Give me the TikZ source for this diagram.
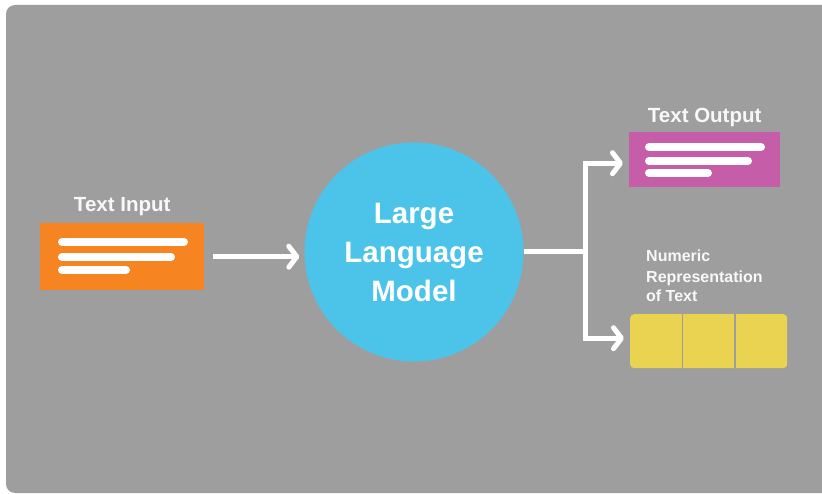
\documentclass[tikz,border=0pt]{standalone}
\usepackage{fontspec}
\setmainfont{Liberation Sans}
\usetikzlibrary{arrows.meta,positioning}

\definecolor{panelgray}{RGB}{158,158,158}
\definecolor{llmblue}{RGB}{76,196,234}
\definecolor{inorange}{RGB}{246,132,32}
\definecolor{outmagenta}{RGB}{197,93,169}
\definecolor{numyellow}{RGB}{233,211,80}
\definecolor{labelwhite}{RGB}{248,248,248}

\tikzset{
  flow/.style={draw=white, line width=5pt,
    -{Straight Barb[length=8pt,width=21pt,line cap=round,line join=round]}},
  textline/.style={draw=white, line width=8pt, line cap=round},
  title/.style={text=labelwhite, font=\bfseries\fontsize{20.5}{24}\selectfont, inner sep=0pt},
  databox/.style={rectangle, inner sep=0pt, anchor=north west},
}

\begin{document}
\begin{tikzpicture}[x=1pt, y=-1pt]
  \useasboundingbox (0,0) rectangle (822,494);
  \fill[white] (0,0) rectangle (822,494);
  \begin{scope}
    \clip (0,0) rectangle (822,494);
    \fill[panelgray, rounded corners=9pt] (6,5) rectangle (850,493);
  \end{scope}

  % model
  \node[circle, fill=llmblue, minimum size=219pt, inner sep=0pt,
        text=white, align=center,
        font=\bfseries\fontsize{29.5}{39}\selectfont] (llm) at (414,252)
        {Large\\Language\\Model};

  % input document
  \node[databox, fill=inorange, minimum width=164pt, minimum height=67pt] (inp) at (40,223) {};
  \draw[textline] ([shift={(22,19)}]inp.north west) -- ([shift={(144,19)}]inp.north west);
  \draw[textline] ([shift={(22,34)}]inp.north west) -- ([shift={(131,34)}]inp.north west);
  \draw[textline] ([shift={(22,47)}]inp.north west) -- ([shift={(86,47)}]inp.north west);
  \node[title, anchor=base] (inlabel) at ([yshift=11.5pt]inp.north) {Text Input};

  % output document
  \node[databox, fill=outmagenta, minimum width=151pt, minimum height=55pt] (out) at (629,132) {};
  \draw[textline] ([shift={(20,15)}]out.north west) -- ([shift={(132,15)}]out.north west);
  \draw[textline] ([shift={(20,29)}]out.north west) -- ([shift={(119,29)}]out.north west);
  \draw[textline] ([shift={(20,41)}]out.north west) -- ([shift={(79,41)}]out.north west);
  \node[title, anchor=base] (outlabel) at ([yshift=9pt]out.north) {Text Output};

  % numeric representation
  \node[databox, fill=numyellow, rounded corners=4pt, minimum width=157pt, minimum height=54pt] (num) at (630,314) {};
  \draw[panelgray, line width=1.5pt] ([xshift=52.5pt]num.north west) -- ([xshift=52.5pt]num.south west);
  \draw[panelgray, line width=1.5pt] ([xshift=-52.5pt]num.north east) -- ([xshift=-52.5pt]num.south east);
  \node[text=labelwhite, font=\bfseries\fontsize{16}{20}\selectfont, align=left,
        inner sep=0pt, anchor=base west] (numlabel) at ([shift={(16,-12)}]num.north west)
        {Numeric\\Representation\\of Text};

  % connectors
  \coordinate (split) at (585,252);
  \draw[flow] ([xshift=9pt]inp.east) -- ([xshift=-5pt]inp.east -| llm.west);
  \draw[white, line width=5pt] (llm.east) -- (split);
  \draw[flow] (split) |- ([xshift=-6pt,yshift=-3.5pt]out.west);
  \draw[flow] (split) |- ([xshift=-6pt,yshift=3pt]num.west);
\end{tikzpicture}
\end{document}
